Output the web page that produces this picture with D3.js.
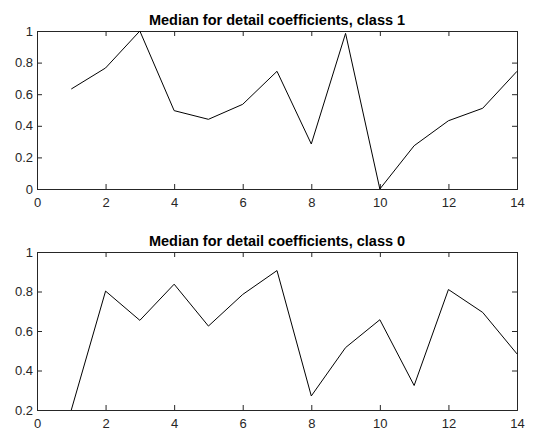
<!DOCTYPE html>
<html>
<head>
<meta charset="utf-8">
<script src="https://cdn.jsdelivr.net/npm/d3@7"></script>
<style>
  body { margin: 0; background: #fff; }
  svg { display: block; }
  .tick text { font-family: "Liberation Sans", Arial, sans-serif; font-size: 13px; fill: #262626; }
  .title { font-family: "Liberation Sans", Arial, sans-serif; font-size: 14.5px; font-weight: bold; fill: #000; }
</style>
</head>
<body>
<div id="chart"></div>
<script>
// data
var xIdx = [1, 2, 3, 4, 5, 6, 7, 8, 9, 10, 11, 12, 13, 14];
var class1 = [0.633, 0.766, 1.0, 0.496, 0.441, 0.536, 0.745, 0.285, 0.985, 0.0, 0.274, 0.432, 0.511, 0.745];
var class0 = [0.2, 0.802, 0.654, 0.837, 0.625, 0.785, 0.906, 0.271, 0.516, 0.657, 0.324, 0.810, 0.694, 0.484];
var xTicks = [0, 2, 4, 6, 8, 10, 12, 14];
var yTicks1 = [0, 0.2, 0.4, 0.6, 0.8, 1];
var yTicks0 = [0.2, 0.4, 0.6, 0.8, 1];

var width = 533, height = 428;
var svg = d3.select('#chart').append('svg')
    .attr('width', width)
    .attr('height', height);

var left = 37, right = 517;

function panel(opts) {
    var g = svg.append('g');
    var x = d3.scaleLinear().domain([0, 14]).range([left, right]);
    var y = d3.scaleLinear().domain(opts.yDomain).range([opts.bottom, opts.top]);
    var fmt = function (d) { return d3.format('~g')(d); };

    // bottom + left axes with labels, ticks pointing inward
    g.append('g')
        .attr('transform', 'translate(0,' + opts.bottom + ')')
        .call(d3.axisBottom(x).tickValues(xTicks).tickSize(-5).tickPadding(9).tickFormat(fmt));
    g.append('g')
        .attr('transform', 'translate(' + left + ',0)')
        .call(d3.axisLeft(y).tickValues(opts.yTicks).tickSize(-5).tickPadding(4).tickFormat(fmt));
    // mirrored ticks on top/right
    g.append('g')
        .attr('transform', 'translate(0,' + opts.top + ')')
        .call(d3.axisTop(x).tickValues(xTicks).tickSize(-5).tickFormat(''));
    g.append('g')
        .attr('transform', 'translate(' + right + ',0)')
        .call(d3.axisRight(y).tickValues(opts.yTicks).tickSize(-5).tickFormat(''));

    g.selectAll('.domain, .tick line').attr('stroke', '#262626');

    var line = d3.line()
        .x(function (d, i) { return x(xIdx[i]); })
        .y(function (d) { return y(d); });

    g.append('path')
        .datum(opts.values)
        .attr('fill', 'none')
        .attr('stroke', '#000')
        .attr('stroke-width', 1)
        .attr('d', line);

    g.append('text')
        .attr('class', 'title')
        .attr('x', (left + right) / 2)
        .attr('y', opts.top - 6)
        .attr('text-anchor', 'middle')
        .text(opts.title);
}

panel({
    top: 31, bottom: 189,
    yDomain: [0, 1], yTicks: yTicks1,
    values: class1,
    title: 'Median for detail coefficients, class 1'
});

panel({
    top: 252, bottom: 410,
    yDomain: [0.2, 1], yTicks: yTicks0,
    values: class0,
    title: 'Median for detail coefficients, class 0'
});
</script>
</body>
</html>
